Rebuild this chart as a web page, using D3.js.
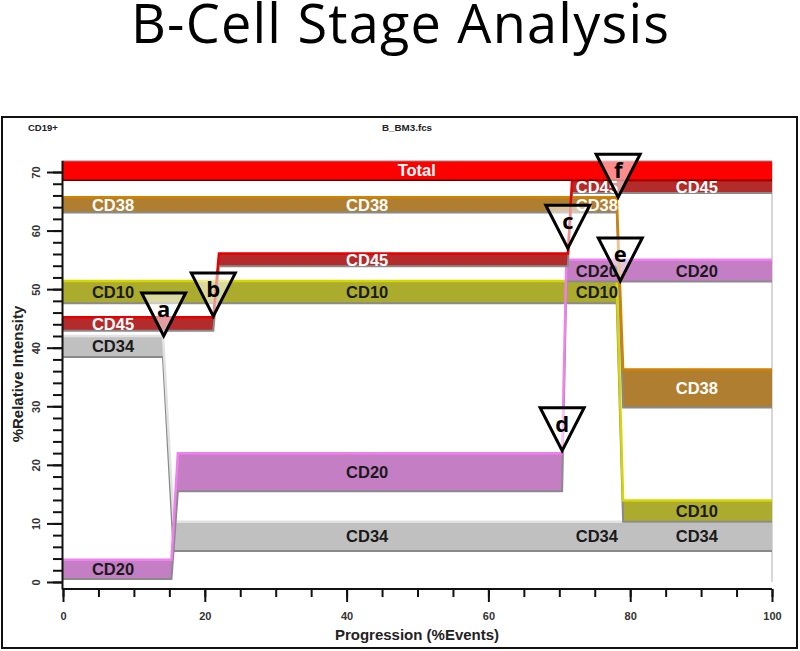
<!DOCTYPE html>
<html>
<head>
<meta charset="utf-8">
<script src="https://cdn.jsdelivr.net/npm/d3@7"></script>
<style>
  body { margin: 0; background: #fff; }
  svg { display: block; }
</style>
</head>
<body>
<svg id="chart" width="800" height="651"></svg>
<script>
'use strict'

// band outlines per marker: [progression %events, lower %, upper %]
const total = [[0, 68.6, 71.9], [100, 68.6, 71.9]]
const cd45 = [[0, 42.9, 45.2], [21.2, 42.9, 45.2], [22.0, 53.9, 56.1], [71.2, 53.9, 56.1], [71.8, 66.4, 68.5], [100, 66.4, 68.5]]
const cd38 = [[0, 63.1, 65.7], [78.1, 63.1, 65.7], [79.0, 29.8, 36.3], [100, 29.8, 36.3]]
const cd10 = [[0, 47.6, 51.4], [78.1, 47.6, 51.4], [79.0, 10.3, 13.9], [100, 10.3, 13.9]]
const cd20 = [[0, 0.5, 3.8], [15.3, 0.5, 3.8], [16.2, 15.5, 22.0], [70.4, 15.5, 22.0], [71.0, 51.3, 55.0], [100, 51.3, 55.0]]
const cd34 = [[0, 38.4, 42.0], [14.1, 38.4, 42.0], [15.6, 5.3, 10.3], [100, 5.3, 10.3]]

// where the marker names are written along each band (progression %)
const totalLabels = [49.9]
const markerLabels = [7.05, 42.9, 75.3, 89.4]

// stage markers (apex of the triangles)
const stageNames = ['a', 'b', 'c', 'd', 'e', 'f']
const stageX = [14.2, 21.2, 71.2, 70.4, 78.6, 78.3]
const stageY = [42.0, 45.4, 57.0, 22.4, 51.4, 65.7]

const xMajor = [0, 20, 40, 60, 80, 100]
const xMinor = d3.range(0, 101, 5)
const yMajor = [0, 10, 20, 30, 40, 50, 60, 70]
const yMinor = d3.range(0, 72, 2)

const markers = [
  {name: 'CD34', pts: cd34, fill: '#c0c0c0', top: '#e2e2e2', bottom: '#8a8a8a', text: '#1a1a1a', labels: markerLabels},
  {name: 'CD10', pts: cd10, fill: '#abab2e', top: '#d6d600', bottom: '#8a8a8a', text: '#1a1a1a', labels: markerLabels},
  {name: 'CD20', pts: cd20, fill: '#c47fc4', top: '#f080f0', bottom: '#8a8a8a', text: '#1a1a1a', labels: markerLabels},
  {name: 'CD38', pts: cd38, fill: '#b07e30', top: '#d08200', bottom: '#8a8a8a', text: '#ffffff', labels: markerLabels},
  {name: 'CD45', pts: cd45, fill: '#b32b2b', top: '#e80000', bottom: '#8a8a8a', text: '#ffffff', labels: markerLabels},
  {name: 'Total', pts: total, fill: '#ff0000', top: '#a0a0a0', bottom: '#700000', text: '#ffffff', labels: totalLabels}
]

const svg = d3.select('#chart')
const FONT = '"Liberation Sans", Arial, sans-serif'

const x = d3.scaleLinear().domain([0, 100]).range([63, 772])
const y = d3.scaleLinear().domain([-1.2, 72]).range([589, 160.3])

// title
svg.append('text')
  .attr('x', 400).attr('y', 43)
  .attr('text-anchor', 'middle')
  .attr('textLength', 538)
  .attr('lengthAdjust', 'spacing')
  .style('font-family', '"Open Sans", sans-serif')
  .style('font-size', '54px')
  .attr('fill', '#000')
  .text('B-Cell Stage Analysis')

// outer frame
svg.append('rect')
  .attr('x', 2).attr('y', 117).attr('width', 795).attr('height', 531)
  .attr('fill', 'none').attr('stroke', '#111').attr('stroke-width', 2)

svg.append('text')
  .attr('x', 28).attr('y', 131)
  .style('font-family', FONT).style('font-size', '9.5px').style('font-weight', 'bold')
  .attr('fill', '#222')
  .text('CD19+')

svg.append('text')
  .attr('x', 407).attr('y', 131)
  .attr('text-anchor', 'middle')
  .style('font-family', FONT).style('font-size', '9.8px').style('font-weight', 'bold')
  .attr('fill', '#222')
  .text('B_BM3.fcs')

// right edge of the plot
svg.append('line')
  .attr('x1', x(100)).attr('x2', x(100))
  .attr('y1', y(71.9)).attr('y2', y(0))
  .attr('stroke', '#b0b0b0').attr('stroke-width', 1)

const area = d3.area()
  .x(d => x(d[0]))
  .y0(d => y(d[1]))
  .y1(d => y(d[2]))

const topLine = d3.line().x(d => x(d[0])).y(d => y(d[2]))
const bottomLine = d3.line().x(d => x(d[0])).y(d => y(d[1]))

function bandMid(pts, xv) {
  for (let i = 0; i < pts.length - 1; i++) {
    const a = pts[i], b = pts[i + 1]
    if (xv >= a[0] && xv <= b[0]) {
      const t = (xv - a[0]) / (b[0] - a[0])
      const lo = a[1] + t * (b[1] - a[1])
      const hi = a[2] + t * (b[2] - a[2])
      return (lo + hi) / 2
    }
  }
  return (pts[0][1] + pts[0][2]) / 2
}

const bands = svg.append('g')

markers.forEach(m => {
  const g = bands.append('g').attr('class', 'band')
  g.append('path').datum(m.pts)
    .attr('d', area)
    .attr('fill', m.fill)
  g.append('path').datum(m.pts)
    .attr('d', bottomLine)
    .attr('fill', 'none')
    .attr('stroke', m.bottom)
    .attr('stroke-width', m.name === 'Total' ? 1.5 : 2)
  g.append('path').datum(m.pts)
    .attr('d', topLine)
    .attr('fill', 'none')
    .attr('stroke', m.top)
    .attr('stroke-width', m.name === 'Total' ? 1 : 2.5)
  g.selectAll('text')
    .data(m.labels)
    .join('text')
      .attr('x', d => x(d))
      .attr('y', d => y(bandMid(m.pts, d)))
      .attr('dy', '0.36em')
      .attr('text-anchor', 'middle')
      .style('font-family', FONT)
      .style('font-size', '16.5px')
      .style('font-weight', 'bold')
      .attr('fill', m.text)
      .text(m.name)
})

// axes
const axisStyle = g => {
  g.selectAll('line').attr('stroke', '#111').attr('stroke-width', 2)
  g.selectAll('path').attr('stroke', '#111').attr('stroke-width', 2)
  g.selectAll('text')
    .style('font-family', FONT).style('font-size', '11px').style('font-weight', 'bold')
    .attr('fill', '#333')
}

svg.append('g')
  .attr('transform', `translate(0,${y(-1.2)})`)
  .call(d3.axisBottom(x).tickValues(xMinor).tickSize(8).tickSizeOuter(0).tickFormat(''))
  .call(g => g.select('.domain').remove())
  .call(axisStyle)

svg.append('g')
  .attr('transform', `translate(0,${y(-1.2)})`)
  .call(d3.axisBottom(x).tickValues(xMajor).tickSize(13).tickSizeOuter(0))
  .call(g => g.select('.domain').attr('d', `M${x(0) - 1},0H${x(100)}`))
  .call(axisStyle)
  .call(g => g.selectAll('text').attr('y', 23))

svg.append('g')
  .attr('transform', `translate(${x(0) - 1},0)`)
  .call(d3.axisLeft(y).tickValues(yMinor).tickSize(9).tickSizeOuter(0).tickFormat(''))
  .call(g => g.select('.domain').remove())
  .call(axisStyle)

svg.append('g')
  .attr('transform', `translate(${x(0) - 1},0)`)
  .call(d3.axisLeft(y).tickValues(yMajor).tickSize(15).tickSizeOuter(0))
  .call(axisStyle)
  .call(g => g.selectAll('text')
    .attr('transform', 'rotate(-90)')
    .attr('x', 0).attr('y', -22).attr('dy', 0)
    .attr('text-anchor', 'middle'))

svg.append('text')
  .attr('x', 417).attr('y', 640)
  .attr('text-anchor', 'middle')
  .style('font-family', FONT).style('font-size', '15px').style('font-weight', 'bold')
  .attr('fill', '#222')
  .text('Progression (%Events)')

svg.append('text')
  .attr('transform', `translate(22.5,${374}) rotate(-90)`)
  .attr('text-anchor', 'middle')
  .style('font-family', FONT).style('font-size', '15px').style('font-weight', 'bold')
  .attr('fill', '#222')
  .text('%Relative Intensity')

// stage triangles
const stages = stageNames.map((s, i) => ({name: s, x: stageX[i], y: stageY[i]}))
const tri = svg.append('g').selectAll('g')
  .data(stages)
  .join('g')
    .attr('transform', d => `translate(${x(d.x)},${y(d.y)})`)

tri.append('path')
  .attr('d', 'M-22,-43L22,-43L0,0Z')
  .attr('fill', '#fff').attr('fill-opacity', 0.55)
  .attr('stroke', '#000').attr('stroke-width', 3)
  .attr('stroke-linejoin', 'miter')

tri.append('text')
  .attr('x', 0).attr('y', -19)
  .attr('text-anchor', 'middle')
  .style('font-family', '"Open Sans", sans-serif')
  .style('font-size', '22px').style('font-weight', 'bold')
  .attr('fill', '#000')
  .text(d => d.name)
</script>
</body>
</html>
